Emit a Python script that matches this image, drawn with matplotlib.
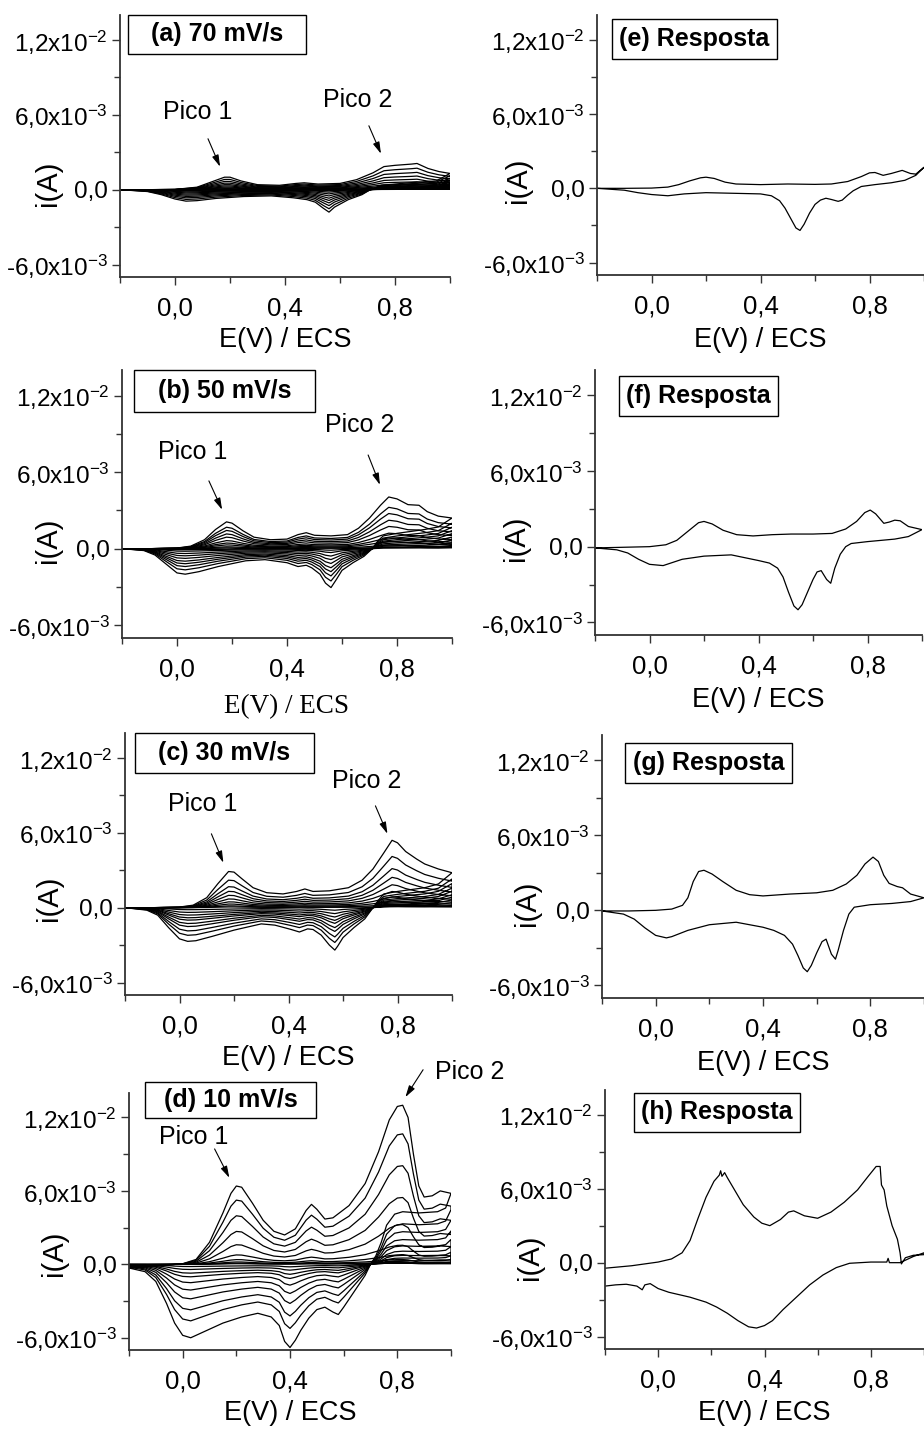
import matplotlib
matplotlib.use("Agg")
import matplotlib.pyplot as plt
import matplotlib.patches as patches
from matplotlib.ticker import FixedLocator, FixedFormatter
import numpy as np

plt.rcParams['font.family'] = ['Liberation Sans', 'DejaVu Sans']
plt.rcParams['mathtext.fontset'] = 'custom'
plt.rcParams['mathtext.rm'] = 'Liberation Sans'
plt.rcParams['mathtext.default'] = 'regular'

W, H = 924, 1430

# ---- data (E in V, i in mA) ----
# (a) 70 mV/s, outer cycle
a_e_fwd = [-0.20, -0.10, 0.00, 0.08, 0.13, 0.18, 0.20, 0.24, 0.30, 0.38, 0.44, 0.47, 0.52, 0.60,
           0.66, 0.72, 0.76, 0.80, 0.86, 0.88, 0.92, 0.96, 1.00]
a_i_fwd = [0.0, 0.0, 0.02, 0.2, 0.6, 1.0, 1.0, 0.7, 0.4, 0.35, 0.5, 0.55, 0.45, 0.5,
           0.8, 1.35, 1.85, 1.95, 2.05, 2.1, 1.7, 1.45, 1.3]
a_e_rev = [1.00, 0.95, 0.85, 0.75, 0.71, 0.68, 0.63, 0.58, 0.56, 0.54, 0.51, 0.48, 0.43, 0.35,
           0.25, 0.15, 0.08, 0.04, 0.00, -0.05, -0.10, -0.20]
a_i_rev = [1.3, 0.7, 0.55, 0.35, 0.0, -0.4, -0.8, -1.4, -1.8, -1.5, -1.0, -0.8, -0.65, -0.5,
           -0.55, -0.7, -0.88, -0.92, -0.75, -0.4, -0.15, 0.0]
a_k_fwd = [1.0, 0.82, 0.66, 0.52, 0.40, 0.30, 0.21, 0.14, 0.08, 0.03]
a_k_rev = [1.0, 0.85, 0.71, 0.59, 0.48, 0.38, 0.28, 0.19, 0.11, 0.05]

# (b) 50 mV/s
b_e_fwd = [-0.20, -0.10, 0.00, 0.05, 0.10, 0.14, 0.18, 0.20, 0.24, 0.28, 0.34, 0.40, 0.44, 0.47,
           0.50, 0.56, 0.62, 0.66, 0.70, 0.74, 0.77, 0.80, 0.84, 0.88, 0.91, 0.95, 1.00]
b_i_fwd = [0.0, 0.0, 0.05, 0.2, 0.7, 1.5, 2.1, 2.0, 1.4, 0.9, 0.7, 0.75, 1.1, 1.25,
           1.05, 1.0, 1.1, 1.6, 2.4, 3.4, 4.05, 3.9, 3.45, 3.4, 2.9, 2.55, 2.4]
b_e_rev = [1.00, 0.95, 0.90, 0.80, 0.75, 0.73, 0.71, 0.68, 0.64, 0.60, 0.58, 0.56, 0.54, 0.52,
           0.49, 0.47, 0.44, 0.40, 0.32, 0.25, 0.15, 0.08, 0.03, 0.00, -0.04, -0.08, -0.12, -0.20]
b_i_rev = [2.4, 1.7, 1.5, 1.2, 1.0, 0.6, 0.0, -0.6, -1.1, -1.7, -2.4, -3.05, -2.7, -2.0,
           -1.5, -1.3, -1.4, -1.1, -0.86, -0.95, -1.4, -1.8, -2.0, -1.9, -1.2, -0.5, -0.15, 0.0]
b_k_fwd = [1.0, 0.80, 0.68, 0.55, 0.43, 0.30, 0.21, 0.14, 0.07, 0.03]
b_k_rev = [1.0, 0.83, 0.70, 0.59, 0.49, 0.38, 0.28, 0.19, 0.10, 0.04]

# (c) 30 mV/s
c_e_fwd = [-0.20, -0.10, 0.00, 0.05, 0.10, 0.14, 0.18, 0.20, 0.23, 0.27, 0.32, 0.38, 0.43, 0.46,
           0.49, 0.55, 0.62, 0.67, 0.71, 0.75, 0.78, 0.80, 0.83, 0.87, 0.90, 0.95, 1.00]
c_i_fwd = [0.0, 0.0, 0.05, 0.2, 0.8, 1.9, 2.9, 2.85, 2.3, 1.6, 1.2, 1.1, 1.3, 1.5,
           1.3, 1.35, 1.6, 2.2, 3.1, 4.4, 5.4, 5.2, 4.5, 3.9, 3.5, 3.1, 2.8]
c_e_rev = [1.00, 0.95, 0.90, 0.80, 0.75, 0.73, 0.71, 0.68, 0.64, 0.60, 0.58, 0.57, 0.55, 0.52,
           0.49, 0.47, 0.44, 0.41, 0.35, 0.30, 0.20, 0.12, 0.06, 0.03, 0.00, -0.04, -0.08, -0.12, -0.20]
c_i_rev = [2.8, 1.9, 1.6, 1.3, 1.1, 0.6, 0.0, -0.9, -1.6, -2.4, -3.1, -3.4, -3.0, -2.2,
           -1.75, -1.7, -1.95, -1.75, -1.4, -1.3, -1.8, -2.3, -2.65, -2.7, -2.5, -1.6, -0.6, -0.2, 0.0]
c_k_fwd = [1.0, 0.76, 0.58, 0.45, 0.34, 0.24, 0.16, 0.10, 0.05, 0.02]
c_k_rev = [1.0, 0.82, 0.69, 0.56, 0.47, 0.37, 0.30, 0.22, 0.14, 0.06]

# (d) 10 mV/s
d_e_fwd = [-0.20, -0.10, 0.00, 0.05, 0.10, 0.15, 0.18, 0.20, 0.22, 0.26, 0.30, 0.34, 0.38, 0.42,
           0.46, 0.48, 0.50, 0.53, 0.56, 0.62, 0.68, 0.73, 0.77, 0.80, 0.82, 0.84, 0.86, 0.88,
           0.90, 0.93, 0.96, 0.98, 1.00]
d_i_fwd = [-0.3, -0.15, 0.05, 0.4, 1.8, 4.2, 5.8, 6.4, 6.3, 5.0, 3.6, 2.7, 2.4, 2.9,
           4.4, 4.9, 4.5, 3.7, 3.8, 4.8, 6.6, 9.2, 11.8, 12.9, 13.0, 12.0, 9.0, 6.4,
           5.5, 5.6, 6.0, 5.9, 5.8]
d_e_rev = [1.00, 0.98, 0.95, 0.88, 0.82, 0.79, 0.76, 0.74, 0.72, 0.70, 0.68, 0.64, 0.60, 0.58,
           0.56, 0.53, 0.50, 0.47, 0.44, 0.42, 0.40, 0.38, 0.36, 0.33, 0.28, 0.22, 0.15, 0.08,
           0.03, 0.00, -0.03, -0.06, -0.10, -0.14, -0.20]
d_i_rev = [5.8, 4.6, 4.3, 4.2, 4.3, 4.1, 3.2, 1.8, 0.7, 0.0, -0.9, -2.2, -3.5, -4.1,
           -3.9, -3.5, -3.7, -4.4, -5.4, -6.2, -6.8, -6.3, -5.0, -4.3, -4.0, -4.3, -4.8, -5.5,
           -6.0, -5.8, -4.8, -3.2, -1.4, -0.6, -0.3]
d_k_fwd = [1.0, 0.82, 0.62, 0.42, 0.25, 0.12, 0.06, 0.03, 0.015, 0.008]
d_k_rev = [1.0, 0.77, 0.62, 0.47, 0.35, 0.25, 0.17, 0.12, 0.07, 0.03]

# (e) Resposta
e_e_fwd = [-0.20, -0.10, 0.00, 0.06, 0.10, 0.14, 0.18, 0.20, 0.23, 0.27, 0.31, 0.40, 0.50, 0.60,
           0.66, 0.72, 0.77, 0.80, 0.82, 0.85, 0.88, 0.92, 0.95, 0.97, 1.00]
e_i_fwd = [0.0, 0.0, 0.02, 0.1, 0.3, 0.6, 0.85, 0.9, 0.8, 0.5, 0.35, 0.3, 0.35, 0.32,
           0.35, 0.55, 0.95, 1.25, 1.28, 1.05, 1.2, 1.45, 1.2, 1.15, 1.7]
e_e_rev = [1.00, 0.97, 0.93, 0.88, 0.82, 0.77, 0.74, 0.72, 0.70, 0.685, 0.66, 0.64, 0.62, 0.60,
           0.58, 0.56, 0.545, 0.53, 0.51, 0.49, 0.47, 0.44, 0.40, 0.30, 0.20, 0.12, 0.06, 0.00,
           -0.05, -0.10, -0.20]
e_i_rev = [1.7, 1.05, 0.65, 0.45, 0.3, 0.15, -0.2, -0.55, -0.95, -1.05, -0.9, -0.8, -0.95, -1.3,
           -2.0, -2.9, -3.4, -3.2, -2.4, -1.6, -1.0, -0.6, -0.45, -0.4, -0.35, -0.45, -0.6, -0.5,
           -0.35, -0.15, 0.0]

# (f) Resposta
f_e_fwd = [-0.20, -0.10, 0.00, 0.06, 0.10, 0.14, 0.18, 0.20, 0.23, 0.27, 0.32, 0.38, 0.45, 0.52,
           0.60, 0.67, 0.72, 0.76, 0.79, 0.81, 0.83, 0.86, 0.88, 0.90, 0.92, 0.95, 1.00]
f_i_fwd = [-0.1, -0.05, 0.0, 0.15, 0.5, 1.2, 1.9, 2.0, 1.8, 1.3, 0.95, 0.85, 0.95, 1.0,
           1.0, 1.05, 1.4, 2.0, 2.7, 2.9, 2.6, 1.85, 1.95, 2.1, 2.05, 1.6, 1.35]
f_e_rev = [1.00, 0.95, 0.90, 0.80, 0.74, 0.72, 0.70, 0.68, 0.665, 0.65, 0.63, 0.615, 0.60, 0.58,
           0.56, 0.545, 0.53, 0.51, 0.49, 0.47, 0.44, 0.40, 0.30, 0.20, 0.12, 0.05, 0.00, -0.04,
           -0.08, -0.12, -0.20]
f_i_rev = [1.35, 0.8, 0.6, 0.4, 0.25, 0.0, -0.6, -1.7, -2.9, -2.6, -1.9, -2.0, -2.6, -3.6,
           -4.6, -5.0, -4.7, -3.6, -2.4, -1.7, -1.3, -1.1, -0.65, -0.75, -1.0, -1.5, -1.4, -1.0,
           -0.5, -0.25, -0.1]

# (g) Resposta
g_e_fwd = [-0.20, -0.10, 0.00, 0.06, 0.10, 0.12, 0.14, 0.16, 0.18, 0.21, 0.25, 0.30, 0.35, 0.40,
           0.50, 0.60, 0.66, 0.71, 0.75, 0.78, 0.81, 0.83, 0.85, 0.87, 0.90, 0.92, 0.95, 1.00]
g_i_fwd = [-0.05, -0.05, 0.0, 0.1, 0.4, 1.0, 2.3, 3.1, 3.2, 2.9, 2.3, 1.6, 1.25, 1.15,
           1.3, 1.4, 1.6, 2.1, 2.8, 3.7, 4.25, 3.9, 2.8, 2.15, 1.9, 1.8, 1.3, 1.0]
g_e_rev = [1.00, 0.95, 0.88, 0.80, 0.74, 0.72, 0.70, 0.68, 0.67, 0.655, 0.635, 0.62, 0.60, 0.58,
           0.565, 0.55, 0.53, 0.51, 0.48, 0.44, 0.40, 0.30, 0.20, 0.12, 0.06, 0.04, 0.00, -0.04,
           -0.08, -0.12, -0.20]
g_i_rev = [1.0, 0.7, 0.55, 0.45, 0.25, -0.3, -1.6, -3.2, -3.9, -3.5, -2.3, -2.5, -3.4, -4.4,
           -4.9, -4.6, -3.6, -2.7, -2.0, -1.6, -1.35, -0.95, -1.15, -1.6, -2.1, -2.2, -2.0, -1.4,
           -0.7, -0.3, -0.05]

# (h) Resposta
h_e_fwd = [-0.20, -0.10, 0.00, 0.05, 0.09, 0.12, 0.15, 0.18, 0.21, 0.23, 0.235, 0.24, 0.25, 0.26,
           0.29, 0.32, 0.36, 0.39, 0.42, 0.46, 0.49, 0.51, 0.55, 0.60, 0.65, 0.70, 0.75, 0.79,
           0.82, 0.835, 0.84, 0.85, 0.86, 0.88, 0.90, 0.91, 0.915, 0.93, 0.96, 1.00]
h_i_fwd = [-0.45, -0.25, 0.05, 0.3, 0.8, 1.8, 3.6, 5.3, 6.6, 7.1, 7.45, 7.0, 7.3, 6.9,
           5.8, 4.7, 3.7, 3.2, 3.0, 3.5, 4.1, 4.2, 3.8, 3.6, 4.1, 4.9, 5.9, 7.0,
           7.8, 7.8, 6.3, 5.9, 4.6, 3.0, 1.9, 0.8, -0.1, 0.4, 0.6, 0.65]
h_e_rev = [1.00, 0.96, 0.93, 0.91, 0.87, 0.865, 0.86, 0.80, 0.72, 0.67, 0.62, 0.57, 0.52, 0.47,
           0.43, 0.40, 0.37, 0.34, 0.30, 0.26, 0.22, 0.18, 0.12, 0.08, 0.04, 0.00, -0.03, -0.05,
           -0.06, -0.08, -0.12, -0.16, -0.20]
h_i_rev = [0.8, 0.5, 0.2, 0.0, 0.0, 0.35, 0.05, 0.05, -0.05, -0.4, -1.0, -1.8, -2.8, -3.8,
           -4.7, -5.1, -5.3, -5.2, -4.7, -4.1, -3.6, -3.2, -2.8, -2.6, -2.4, -2.1, -1.7, -1.8,
           -2.2, -1.9, -1.75, -1.8, -1.9]

# axes boxes in pixels: left, top, right, bottom
boxes = {
    'a': (120, 15, 450, 277), 'b': (122, 370, 452, 638),
    'c': (125, 733, 452, 995), 'd': (129, 1093, 451, 1350),
    'e': (597, 15, 924, 275), 'f': (595, 370, 922, 635),
    'g': (602, 735, 924, 998), 'h': (605, 1090, 924, 1349),
}
titles = {'a': '(a) 70 mV/s', 'b': '(b) 50 mV/s', 'c': '(c) 30 mV/s', 'd': '(d) 10 mV/s',
          'e': '(e) Resposta', 'f': '(f) Resposta', 'g': '(g) Resposta', 'h': '(h) Resposta'}
title_boxes = {
    'a': (128, 15, 306, 54), 'b': (134, 370, 315, 412), 'c': (135, 733, 314, 773),
    'd': (145, 1082, 316, 1118), 'e': (612, 19, 777, 59), 'f': (619, 376, 778, 416),
    'g': (625, 743, 792, 783), 'h': (634, 1093, 800, 1132),
}
ylab_pos = {'a': (48, 183), 'b': (48, 540), 'c': (49, 898), 'd': (54, 1253),
            'e': (518, 180), 'f': (516, 538), 'g': (527, 903), 'h': (530, 1257)}
xlab_y = {'a': 340, 'b': 707, 'c': 1058, 'd': 1413, 'e': 340, 'f': 700, 'g': 1063, 'h': 1413}

# Pico annotations: text pos, arrow tail, arrow tip (E, mA)
picos = {
    'a': [((0.084, 6.24), (0.12, 4.08), (0.164, 1.84)), ((0.665, 7.2), (0.705, 5.12), (0.749, 2.88))],
    'b': [((0.058, 7.58), (0.116, 5.31), (0.164, 3.05)), ((0.665, 9.69), (0.695, 7.34), (0.738, 5.0))],
    'c': [((0.084, 8.32), (0.117, 5.92), (0.161, 3.6)), ((0.686, 10.16), (0.719, 8.16), (0.763, 5.92))],
    'd': [((0.041, 10.4), (0.119, 9.43), (0.174, 7.07)), ((1.07, 15.7), (0.896, 15.9), (0.83, 13.66))],
}

curves = {
    'a': (a_e_fwd, a_i_fwd, a_e_rev, a_i_rev, a_k_fwd, a_k_rev),
    'b': (b_e_fwd, b_i_fwd, b_e_rev, b_i_rev, b_k_fwd, b_k_rev),
    'c': (c_e_fwd, c_i_fwd, c_e_rev, c_i_rev, c_k_fwd, c_k_rev),
    'd': (d_e_fwd, d_i_fwd, d_e_rev, d_i_rev, d_k_fwd, d_k_rev),
    'e': (e_e_fwd, e_i_fwd, e_e_rev, e_i_rev, [1.0], [1.0]),
    'f': (f_e_fwd, f_i_fwd, f_e_rev, f_i_rev, [1.0], [1.0]),
    'g': (g_e_fwd, g_i_fwd, g_e_rev, g_i_rev, [1.0], [1.0]),
    'h': (h_e_fwd, h_i_fwd, h_e_rev, h_i_rev, [1.0], [1.0]),
}

fig = plt.figure(figsize=(W / 100, H / 100), dpi=100)


def fx(x):
    return x / W


def fy(y):
    return 1 - y / H


for key, (l, t, r, b) in boxes.items():
    ax = fig.add_axes([fx(l), fy(b), (r - l) / W, (b - t) / H])
    e_f, i_f, e_r, i_r, k_f, k_r = curves[key]
    for kf, kr in zip(k_f, k_r):
        e = np.r_[e_f, e_r]
        i = np.r_[np.multiply(i_f, kf), np.multiply(i_r, kr)] * 1e-3
        ax.plot(e, i, color='k', lw=0.9)

    ax.set_xlim(-0.2, 1.0)
    ax.set_ylim(-7e-3, 1.4e-2)
    for s in ['top', 'right']:
        ax.spines[s].set_visible(False)
    for s in ['left', 'bottom']:
        ax.spines[s].set_linewidth(1.3)
        ax.spines[s].set_color('#333333')

    ax.xaxis.set_major_locator(FixedLocator([0.0, 0.4, 0.8]))
    ax.xaxis.set_major_formatter(FixedFormatter(['0,0', '0,4', '0,8']))
    ax.xaxis.set_minor_locator(FixedLocator([-0.2, 0.2, 0.6, 1.0]))
    ax.yaxis.set_major_locator(FixedLocator([-6e-3, 0.0, 6e-3, 1.2e-2]))
    ax.yaxis.set_major_formatter(FixedFormatter(
        [r'-6,0x10$^{-3}$', '0,0', r'6,0x10$^{-3}$', r'1,2x10$^{-2}$']))
    ax.yaxis.set_minor_locator(FixedLocator([-3e-3, 3e-3, 9e-3]))
    ax.tick_params(which='both', direction='out', width=1.0, color='#333333', labelsize=17.5)
    ax.tick_params(axis='x', labelsize=18.5)
    ax.tick_params(which='major', length=6)
    ax.tick_params(which='minor', length=4)
    ax.tick_params(axis='x', which='major', pad=8)
    ax.tick_params(axis='y', which='major', pad=3)

    # axis labels
    if key == 'b':
        ax.set_xlabel('E(V) / ECS', fontsize=19.5, family='Liberation Serif')
    else:
        ax.set_xlabel('E(V) / ECS', fontsize=19.5)
    ax.xaxis.set_label_coords(fx((l + r) / 2), fy(xlab_y[key]), transform=fig.transFigure)
    ax.xaxis.label.set_va('center')
    ax.set_ylabel('i(A)', fontsize=21)
    yx, yy = ylab_pos[key]
    ax.yaxis.set_label_coords(fx(yx), fy(yy), transform=fig.transFigure)
    ax.yaxis.label.set_va('center')

    # boxed panel title
    x0, y0, x1, y1 = title_boxes[key]
    fig.add_artist(patches.Rectangle((fx(x0), fy(y1)), (x1 - x0) / W, (y1 - y0) / H,
                                     transform=fig.transFigure, fill=False,
                                     edgecolor='k', lw=1.0))
    fig.text(fx((x0 + x1) / 2), fy((y0 + y1) / 2), titles[key], ha='center', va='center',
             fontsize=18, fontweight='bold')

    # peak annotations
    for n, (txt, tail, tip) in enumerate(picos.get(key, [])):
        ax.text(txt[0], txt[1] * 1e-3, 'Pico %d' % (n + 1), fontsize=18,
                ha='center', va='center', clip_on=False)
        ax.annotate('', xy=(tip[0], tip[1] * 1e-3), xytext=(tail[0], tail[1] * 1e-3),
                    annotation_clip=False,
                    arrowprops=dict(arrowstyle='-|>,head_length=0.7,head_width=0.2',
                                    color='k', lw=0.8, shrinkA=0, shrinkB=0))

fig.savefig('out.png', dpi=100)
